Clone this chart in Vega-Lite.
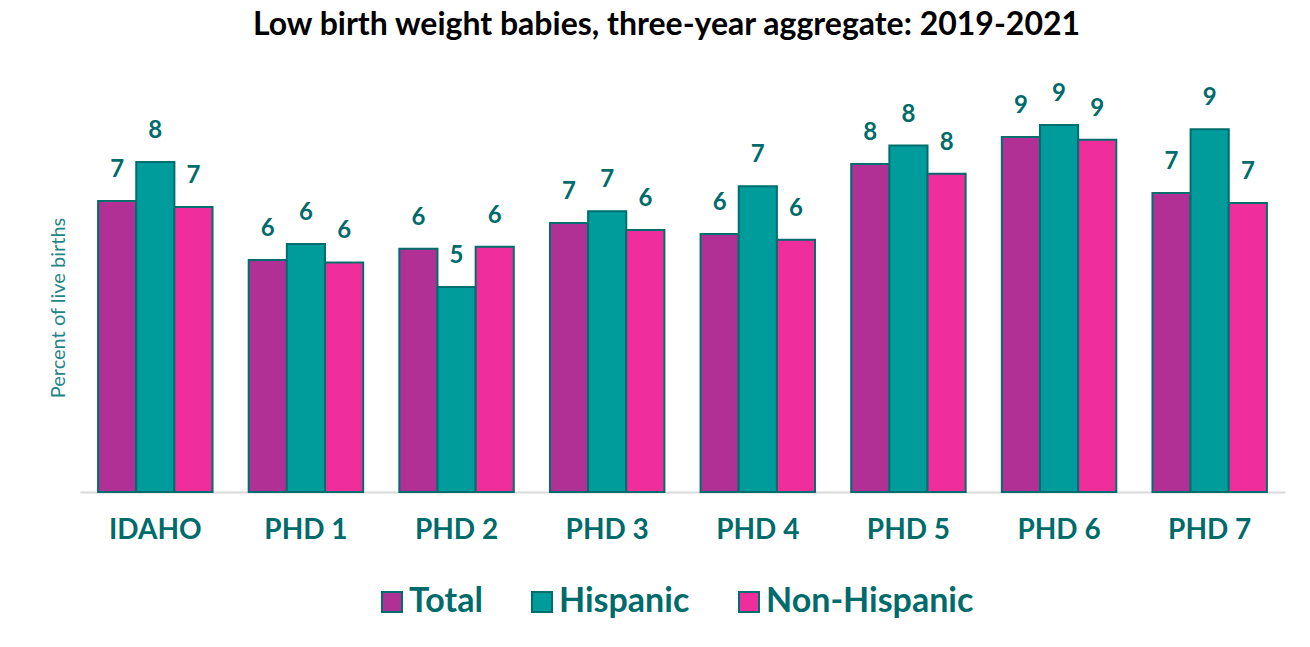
{
  "$schema": "https://vega.github.io/schema/vega-lite/v6.json",
  "autosize": {"type": "none"},
  "padding": {"left": 80, "top": 123, "right": 25, "bottom": 155},
  "width": 1205,
  "height": 369,
  "background": "white",
  "title": {
    "text": "Low birth weight babies, three-year aggregate: 2019-2021",
    "font": "Lato",
    "fontSize": 32,
    "fontWeight": "bold",
    "color": "#000000",
    "anchor": "middle",
    "frame": "bounds",
    "offset": 40
  },
  "config": {
    "view": {"stroke": null},
    "font": "Lato"
  },
  "data": {
    "values": [
      {"region": "IDAHO", "group": "Total", "value": 7.1},
      {"region": "IDAHO", "group": "Hispanic", "value": 8.05},
      {"region": "IDAHO", "group": "Non-Hispanic", "value": 6.95},
      {"region": "PHD 1", "group": "Total", "value": 5.66},
      {"region": "PHD 1", "group": "Hispanic", "value": 6.05},
      {"region": "PHD 1", "group": "Non-Hispanic", "value": 5.6},
      {"region": "PHD 2", "group": "Total", "value": 5.93},
      {"region": "PHD 2", "group": "Hispanic", "value": 5.0},
      {"region": "PHD 2", "group": "Non-Hispanic", "value": 5.98},
      {"region": "PHD 3", "group": "Total", "value": 6.56},
      {"region": "PHD 3", "group": "Hispanic", "value": 6.85},
      {"region": "PHD 3", "group": "Non-Hispanic", "value": 6.39},
      {"region": "PHD 4", "group": "Total", "value": 6.29},
      {"region": "PHD 4", "group": "Hispanic", "value": 7.46},
      {"region": "PHD 4", "group": "Non-Hispanic", "value": 6.15},
      {"region": "PHD 5", "group": "Total", "value": 8.0},
      {"region": "PHD 5", "group": "Hispanic", "value": 8.45},
      {"region": "PHD 5", "group": "Non-Hispanic", "value": 7.76},
      {"region": "PHD 6", "group": "Total", "value": 8.66},
      {"region": "PHD 6", "group": "Hispanic", "value": 8.95},
      {"region": "PHD 6", "group": "Non-Hispanic", "value": 8.59},
      {"region": "PHD 7", "group": "Total", "value": 7.29},
      {"region": "PHD 7", "group": "Hispanic", "value": 8.85},
      {"region": "PHD 7", "group": "Non-Hispanic", "value": 7.05}
    ]
  },
  "encoding": {
    "x": {
      "field": "region",
      "type": "nominal",
      "sort": null,
      "scale": {"paddingInner": 0.24, "paddingOuter": 0.12},
      "axis": {
        "title": null,
        "labelAngle": 0,
        "labelFont": "Lato",
        "labelFontSize": 28,
        "labelFontWeight": "bold",
        "labelColor": "#006b6b",
        "labelPadding": 24,
        "ticks": false,
        "domainColor": "#d9d9d9",
        "domainWidth": 2
      }
    },
    "xOffset": {
      "field": "group",
      "type": "nominal",
      "sort": ["Total", "Hispanic", "Non-Hispanic"],
      "scale": {"paddingInner": 0, "paddingOuter": 0}
    },
    "y": {
      "field": "value",
      "type": "quantitative",
      "scale": {"domain": [0, 9], "nice": false, "zero": true},
      "axis": {
        "title": "Percent of live births",
        "titleFont": "Lato",
        "titleFontSize": 20,
        "titleFontWeight": "normal",
        "titleColor": "#1f8585",
        "titlePadding": 12,
        "labels": false,
        "ticks": false,
        "domain": false,
        "grid": false
      }
    }
  },
  "layer": [
    {
      "mark": {"type": "bar", "stroke": "#006e6e", "strokeWidth": 2},
      "encoding": {
        "fill": {
          "field": "group",
          "type": "nominal",
          "sort": ["Total", "Hispanic", "Non-Hispanic"],
          "scale": {
            "domain": ["Total", "Hispanic", "Non-Hispanic"],
            "range": ["#b03096", "#009b9b", "#ef2e9c"]
          },
          "legend": {
            "title": null,
            "orient": "none",
            "legendX": 295,
            "legendY": 462,
            "direction": "horizontal",
            "symbolType": "square",
            "symbolSize": 400,
            "symbolStrokeColor": "#006e6e",
            "symbolStrokeWidth": 2,
            "symbolOpacity": 1,
            "labelFont": "Lato",
            "labelFontSize": 34,
            "labelFontWeight": "bold",
            "labelColor": "#006b6b",
            "labelOffset": 0,
            "columnPadding": 42,
            "labelLimit": 400
          }
        }
      }
    },
    {
      "mark": {
        "type": "text",
        "baseline": "middle",
        "align": "center",
        "dy": -31,
        "font": "Lato",
        "fontSize": 24,
        "fontWeight": "bold",
        "color": "#006b6b"
      },
      "encoding": {
        "text": {"field": "value", "type": "quantitative", "format": ".0f"}
      }
    }
  ]
}
